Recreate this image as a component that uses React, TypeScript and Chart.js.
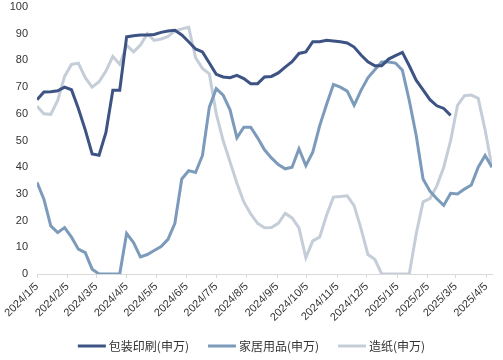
import React, { useEffect, useRef } from "react";
import { Chart, registerables } from "chart.js";

Chart.register(...registerables);

const seriesNames = ["包装印刷(申万)", "家居用品(申万)", "造纸(申万)"];
const seriesColors = ["#3d5384", "#7c9bba", "#c5ced8"];

// weekly observations starting 2024/1/5
const startDate = "2024/1/5";
const weekStep = 7;

const packaging = [
  65.3, 68.2, 68.3, 68.6, 70, 69, 62, 54, 45, 44.5,
  53, 68.8, 68.8, 88.8, 89.2, 89.5, 89.5, 89.7, 90.5, 91,
  91.3, 89.5, 87, 84.3, 83.2, 79, 74.8, 73.8, 73.5, 74.4,
  73.2, 71.3, 71.3, 73.8, 74, 75.3, 77.5, 79.5, 82.6, 83.2,
  87, 87, 87.5, 87.3, 87, 86.5, 85, 82, 79.5, 78,
  78, 80.5, 81.8, 83, 78, 72.6, 69, 65.3, 63, 62,
  59.4,
];

const household = [
  34.3, 28, 18, 15.5, 17.4, 13.8, 9.3, 8, 1.8, 0,
  0, 0, 0, 15.2, 11.8, 6.4, 7.3, 8.8, 10.3, 13,
  19, 35.6, 38.7, 38, 44.4, 62.5, 69.4, 67, 61.5, 51,
  55, 55, 51, 46.5, 43.5, 41, 39.4, 40, 46.9, 40.6,
  45.6, 55.5, 63.5, 71, 70, 68.5, 63.2, 68.8, 73.5, 76.5,
  79.4, 79.4, 79, 76.3, 65, 52, 35.6, 31, 28.2, 25.7,
  30.2, 30, 31.8, 33.3, 40, 44.4, 40,
];

const paper = [
  62.8, 60, 59.8, 65, 74, 78.5, 79, 73.5, 70, 72,
  76, 81.5, 78.5, 85.7, 83.2, 85.7, 90, 87.5, 88, 89,
  91, 91.8, 92.4, 81, 77, 75, 60, 50, 42, 34,
  27, 22.5, 19, 17.3, 17.4, 19, 22.7, 21, 17.3, 6.1,
  12.4, 13.8, 22, 28.8, 29, 29.3, 25.6, 17, 7.3, 5.5,
  0, 0, 0, 0, 0, 15, 27, 28.2, 33, 40,
  50, 63.2, 66.8, 67, 65.8, 54, 40,
];

const tickLabels = [
  "2024/1/5", "2024/2/5", "2024/3/5", "2024/4/5", "2024/5/5", "2024/6/5",
  "2024/7/5", "2024/8/5", "2024/9/5", "2024/10/5", "2024/11/5", "2024/12/5",
  "2025/1/5", "2025/2/5", "2025/3/5", "2025/4/5",
];

function dayIndex(label: string): number {
  const [y, m, d] = label.split("/").map(Number);
  const [sy, sm, sd] = startDate.split("/").map(Number);
  return Math.round((Date.UTC(y, m - 1, d) - Date.UTC(sy, sm - 1, sd)) / 86400000);
}

const toPoints = (arr: number[]) => arr.map((v, i) => ({ x: i * weekStep, y: v }));

// legend drawn on the canvas, centred under the chart
const lineLegend = {
  id: "lineLegend",
  afterDraw(chart: any) {
    const ctx = chart.ctx as CanvasRenderingContext2D;
    const swatch = 28;
    const gapText = 3;
    const gapItem = 19;
    ctx.save();
    ctx.font = "12px 'Noto Sans CJK SC', sans-serif";
    const items = chart.data.datasets.map((ds: any) => ({
      text: ds.label as string,
      color: ds.borderColor as string,
      w: ctx.measureText(ds.label).width,
    }));
    const total =
      items.reduce((s: number, it: any) => s + swatch + gapText + it.w, 0) + gapItem * (items.length - 1);
    let x = chart.width / 2 - total / 2;
    const y = chart.height - 14;
    ctx.textBaseline = "middle";
    ctx.textAlign = "left";
    for (const it of items) {
      ctx.strokeStyle = it.color;
      ctx.lineWidth = 3;
      ctx.beginPath();
      ctx.moveTo(x, y);
      ctx.lineTo(x + swatch, y);
      ctx.stroke();
      ctx.fillStyle = "#333";
      ctx.fillText(it.text, x + swatch + gapText, y);
      x += swatch + gapText + it.w + gapItem;
    }
    ctx.restore();
  },
};

export default function App() {
  const ref = useRef<HTMLCanvasElement | null>(null);

  useEffect(() => {
    document.body.style.margin = "0";
    if (!ref.current) return;
    const tickDays = tickLabels.map(dayIndex);
    const labelByDay: Record<number, string> = {};
    tickLabels.forEach((l, i) => (labelByDay[tickDays[i]] = l));
    const maxDay = (paper.length - 1) * weekStep;
    const font = { family: "'Liberation Sans', Arial, sans-serif", size: 11 };

    const chart = new Chart(ref.current, {
      type: "line",
      data: {
        datasets: [packaging, household, paper].map((arr, i) => ({
          label: seriesNames[i],
          data: toPoints(arr),
          borderColor: seriesColors[i],
          backgroundColor: seriesColors[i],
          borderWidth: 3,
          pointRadius: 0,
          tension: 0,
          fill: false,
        })),
      },
      options: {
        animation: false,
        responsive: true,
        maintainAspectRatio: false,
        layout: { padding: { top: 0, right: 11, left: 0, bottom: 30 } },
        plugins: {
          tooltip: { enabled: false },
          legend: { display: false },
        },
        scales: {
          x: {
            type: "linear",
            min: 0,
            max: maxDay,
            afterBuildTicks: (scale: any) => {
              scale.ticks = tickDays.map((v) => ({ value: v }));
            },
            afterFit: (scale: any) => {
              scale.height = 56;
            },
            ticks: {
              autoSkip: false,
              minRotation: 45,
              maxRotation: 45,
              color: "#333",
              font,
              padding: 2,
              callback: (v: any) => labelByDay[v] ?? "",
            },
            grid: {
              display: true,
              drawOnChartArea: false,
              drawTicks: true,
              tickLength: 4,
              color: "#d9d9d9",
            },
            border: { display: true, color: "#d9d9d9", width: 1 },
          },
          y: {
            min: 0,
            max: 100,
            afterFit: (scale: any) => {
              scale.width = 37;
              scale.paddingTop = 7;
              scale.paddingBottom = 7;
            },
            ticks: { stepSize: 10, color: "#333", font, padding: 9 },
            grid: { display: false, drawTicks: false },
            border: { display: false },
          },
        },
      },
      plugins: [lineLegend],
    } as any);
    return () => chart.destroy();
  }, []);

  return (
    <div style={{ position: "relative", width: 503, height: 360, background: "#fff" }}>
      <canvas ref={ref} />
    </div>
  );
}
